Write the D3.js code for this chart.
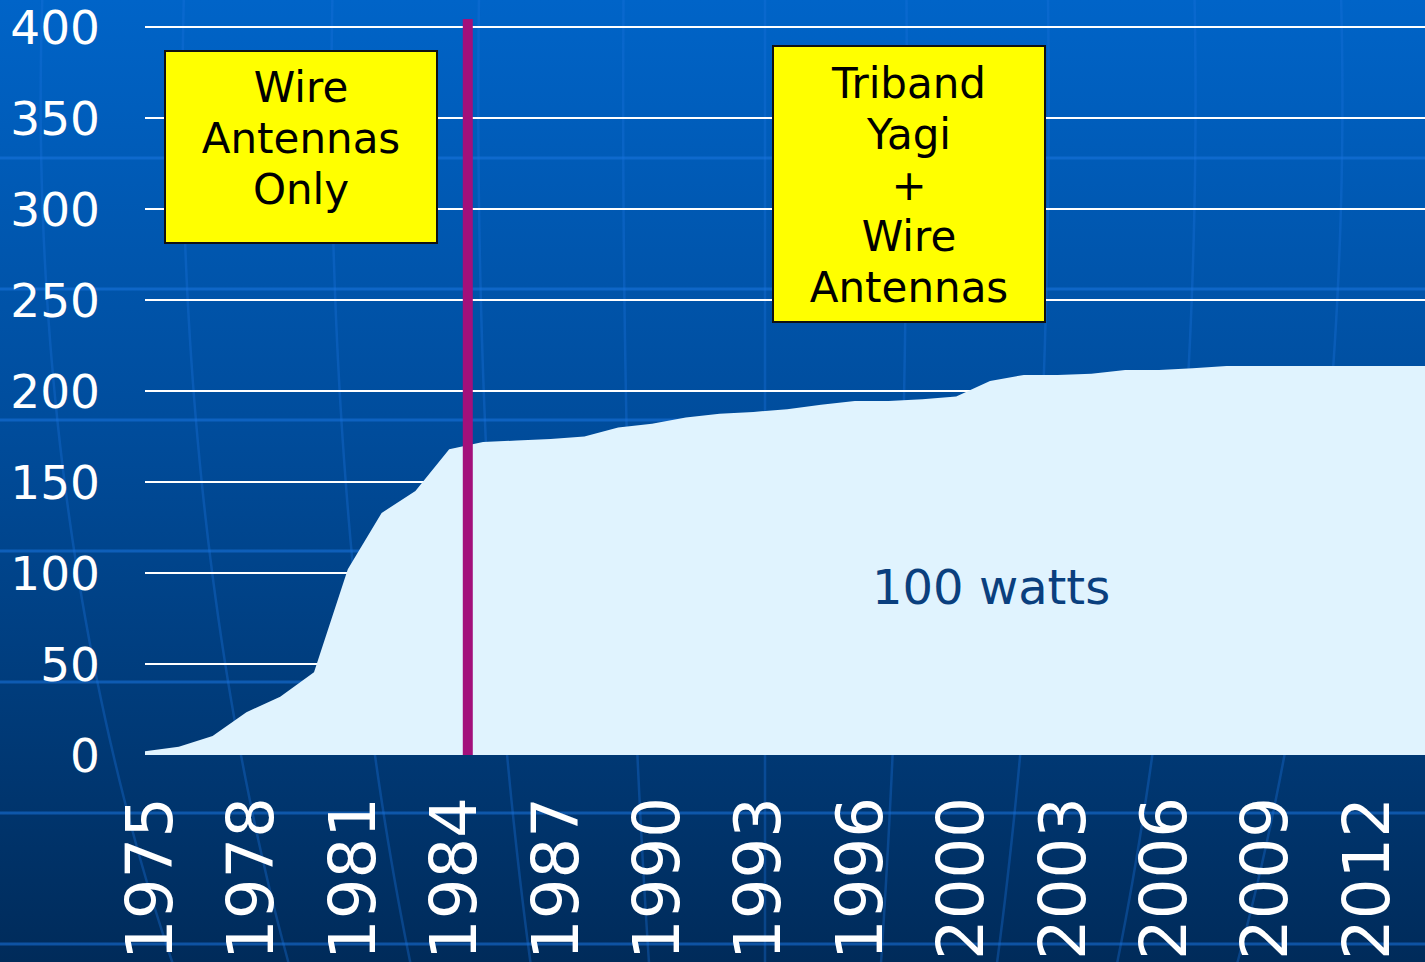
<!DOCTYPE html>
<html>
<head>
<meta charset="utf-8">
<script src="https://cdn.jsdelivr.net/npm/d3@7"></script>
<style>
  html, body { margin: 0; padding: 0; overflow: hidden; background: #003060; }
  svg { display: block; font-family: "DejaVu Sans", Verdana, sans-serif; }
</style>
</head>
<body>
<svg id="chart" width="1425" height="962"></svg>
<script>
// categories (one year is missing between 1998 and 2000 in the source sheet)
const years = [
    "1975", "1976", "1977", "1978", "1979", "1980", "1981", "1982", "1983", "1984",
    "1985", "1986", "1987", "1988", "1989", "1990", "1991", "1992", "1993", "1994",
    "1995", "1996", "1997", "1998", "2000", "2001", "2002", "2003", "2004", "2005",
    "2006", "2007", "2008", "2009", "2010", "2011", "2012", "2013", "2014"
];
const totals = [
    2, 4.5, 10.5, 23.5, 32, 45.5, 102, 133, 145, 168,
    172, 172.8, 173.6, 175, 180, 182, 185.5, 187.5, 188.5, 190,
    192.5, 194.5, 194.5, 195.5, 197, 205.5, 208.8, 208.8, 209.5, 211.5,
    211.5, 212.5, 213.7, 213.7, 213.7, 213.7, 213.7, 213.7, 213.7
];
const yTicks = [0, 50, 100, 150, 200, 250, 300, 350, 400];
const yearLabels = years.filter((d, i) => i % 3 === 0);

const leftBoxLines = ["Wire", "Antennas", "Only"];
const rightBoxLines = ["Triband", "Yagi", "+", "Wire", "Antennas"];
const areaLabel = "100 watts";
const dividerAfter = "1984";

const W = 1425, H = 962;
const PLOT_LEFT = 145, STEP = 33.8;

const svg = d3.select('#chart');

let x = d3.scalePoint()
    .domain(years)
    .range([PLOT_LEFT, PLOT_LEFT + STEP * (years.length - 1)]);
let y = d3.scaleLinear()
    .domain([0, 400])
    .range([755, 27]);

// --- background: blue gradient with faint globe lines
let defs = svg.append('defs');
let grad = defs.append('linearGradient')
    .attr('id', 'bg')
    .attr('x1', 0).attr('y1', 0).attr('x2', 0).attr('y2', 1);
grad.append('stop').attr('offset', '0%').attr('stop-color', '#0064c8');
grad.append('stop').attr('offset', '45%').attr('stop-color', '#004c9b');
grad.append('stop').attr('offset', '100%').attr('stop-color', '#002b5a');
svg.append('rect')
    .attr('width', W).attr('height', H)
    .attr('fill', 'url(#bg)');

let globe = svg.append('g').attr('fill', 'none');
d3.range(158, H, 131).forEach(ly => {
    globe.append('line')
        .attr('x1', 0).attr('x2', W)
        .attr('y1', ly).attr('y2', ly)
        .attr('stroke', '#1a74de')
        .attr('stroke-opacity', 0.55)
        .attr('stroke-width', 3);
});
// meridians bend inward towards the bottom like on a sphere
const cx = 765, eq = 100, R = 1500;
let bend = (yy) => Math.sqrt(1 - Math.pow((yy - eq) / R, 2));
[50, 190, 337, 482, 625, 765, 905, 1045, 1190, 1335].forEach(x340 => {
    let pts = d3.range(0, H + 20, 20).map(yy =>
        [cx + (x340 - cx) * bend(yy) / bend(340), yy]);
    globe.append('path')
        .attr('d', d3.line()(pts))
        .attr('stroke', '#1a74de')
        .attr('stroke-opacity', 0.35)
        .attr('stroke-width', 2.5);
});

// --- gridlines
svg.append('g')
    .selectAll('line')
    .data(yTicks.filter(d => d > 0))
    .join('line')
    .attr('x1', PLOT_LEFT).attr('x2', W)
    .attr('y1', d => y(d)).attr('y2', d => y(d))
    .attr('stroke', '#ffffff')
    .attr('stroke-width', 2);

// --- the area
let area = d3.area()
    .x((d, i) => x(years[i]))
    .y0(y(0))
    .y1(d => y(d));
svg.append('path')
    .datum(totals)
    .attr('d', area)
    .attr('fill', '#e0f3fe');

// --- divider between the two antenna eras
let dividerX = x(dividerAfter) + x.step() * 0.55;
svg.append('line')
    .attr('x1', dividerX).attr('x2', dividerX)
    .attr('y1', 19).attr('y2', y(0))
    .attr('stroke', '#a3107b')
    .attr('stroke-width', 10);

// --- y axis labels
let yAxis = d3.axisLeft(y).tickValues(yTicks).tickSize(0).tickPadding(0);
let yg = svg.append('g')
    .attr('transform', 'translate(100,0)')
    .call(yAxis);
yg.select('.domain').remove();
yg.selectAll('text')
    .attr('fill', '#ffffff')
    .attr('font-size', 47)
    .attr('font-family', '"DejaVu Sans", Verdana, sans-serif')
    .attr('dy', '0.36em');

// --- x axis labels, rotated
svg.append('g')
    .selectAll('text')
    .data(yearLabels)
    .join('text')
    .attr('transform', d => 'translate(' + (x(d) + 27) + ',960) rotate(-90)')
    .attr('text-anchor', 'start')
    .attr('fill', '#ffffff')
    .attr('font-size', 64)
    .text(d => d);

// --- annotation boxes
function drawBox(x0, y0, w, h, lines, firstBaseline) {
    let g = svg.append('g');
    g.append('rect')
        .attr('x', x0).attr('y', y0)
        .attr('width', w).attr('height', h)
        .attr('fill', '#ffff00')
        .attr('stroke', '#111111')
        .attr('stroke-width', 2);
    g.selectAll('text')
        .data(lines)
        .join('text')
        .attr('x', x0 + w / 2)
        .attr('y', (d, i) => firstBaseline + i * 51)
        .attr('text-anchor', 'middle')
        .attr('font-size', 42)
        .attr('fill', '#000000')
        .text(d => d);
}
drawBox(165, 51, 272, 192, leftBoxLines, 102);
drawBox(773, 46, 272, 276, rightBoxLines, 98);

svg.append('text')
    .attr('x', 872)
    .attr('y', 604)
    .attr('font-size', 48)
    .attr('fill', '#0a3f7e')
    .text(areaLabel);
</script>
</body>
</html>
